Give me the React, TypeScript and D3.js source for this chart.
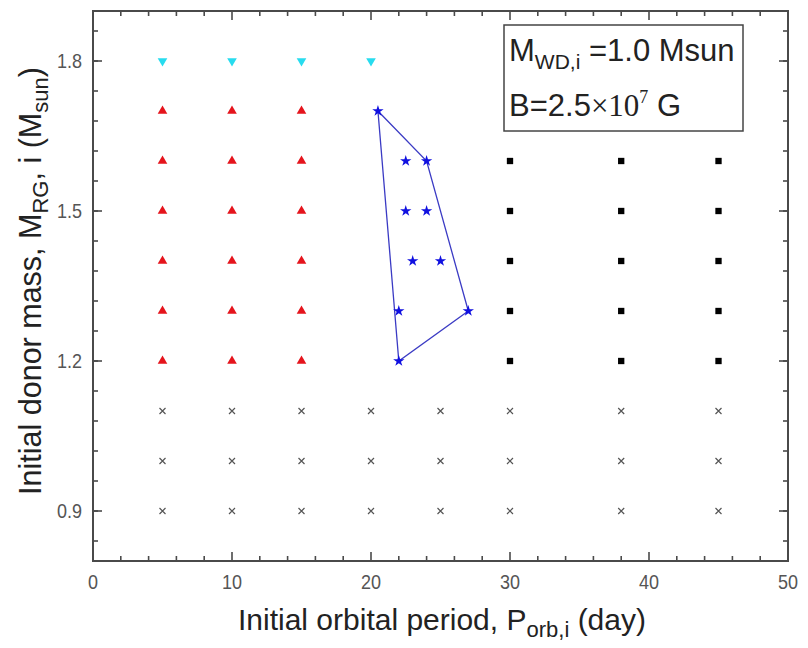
import React from "react";
import * as d3 from "d3";

const W = 808, H = 648;
const M = { left: 93, right: 788, top: 11, bottom: 561 };

const xDomain = [0, 50];
const yDomain = [0.8, 1.9];
const xMajor = [0, 10, 20, 30, 40, 50];
const yMajor = [0.9, 1.2, 1.5, 1.8];

// cyan down triangles
const cyanX = [5, 10, 15, 20];
const cyanY = [1.8];
// red triangles
const redX = [5, 10, 15];
const redY = [1.2, 1.3, 1.4, 1.5, 1.6, 1.7];
// black squares
const blackX = [30, 38, 45];
const blackY = [1.2, 1.3, 1.4, 1.5, 1.6];
// crosses
const crossX = [5, 10, 15, 20, 25, 30, 38, 45];
const crossY = [0.9, 1.0, 1.1];
// stars
const starX = [20.5, 22.5, 24, 22.5, 24, 23, 25, 22, 27, 22];
const starY = [1.7, 1.6, 1.6, 1.5, 1.5, 1.4, 1.4, 1.3, 1.3, 1.2];
// polygon around stars
const hullX = [20.5, 24, 27, 22];
const hullY = [1.7, 1.6, 1.3, 1.2];

const FONT = "Arial, 'Liberation Sans', Helvetica, sans-serif";

export default function App() {
  const x = d3.scaleLinear().domain(xDomain).range([M.left, M.right]);
  const y = d3.scaleLinear().domain(yDomain).range([M.bottom, M.top]);

  const xMinor = d3.range(0, 50.001, 2);
  const yMinor = d3.range(0.84, 1.9, 0.06);

  const tri = d3.symbol().type(d3.symbolTriangle).size(40)() as string;
  const star = d3.symbol().type(d3.symbolStar).size(40)() as string;
  const sq = d3.symbol().type(d3.symbolSquare).size(40)() as string;

  const hullLine = d3
    .line<number>()
    .x((i) => x(hullX[i]))
    .y((i) => y(hullY[i]))
    .curve(d3.curveLinearClosed);

  const axisColor = "#4a4a4a";
  const majLen = 9, minLen = 5;

  return (
    <svg
      width={W}
      height={H}
      style={{ position: "absolute", left: 0, top: 0, background: "#fff" }}
      fontFamily={FONT}
    >
      <rect x={0} y={0} width={W} height={H} fill="#fff" />
      {/* ticks */}
      <g stroke={axisColor} strokeWidth={1.6}>
        {xMinor.map((v, i) => {
          const isMaj = Math.abs(v % 10) < 1e-6;
          const L = isMaj ? majLen : minLen;
          return (
            <g key={"xt" + i}>
              <line x1={x(v)} x2={x(v)} y1={M.bottom} y2={M.bottom - L} />
              <line x1={x(v)} x2={x(v)} y1={M.top} y2={M.top + L} />
            </g>
          );
        })}
        {yMinor.map((v, i) => (
          <g key={"ym" + i}>
            <line x1={M.left} x2={M.left + minLen} y1={y(v)} y2={y(v)} />
            <line x1={M.right} x2={M.right - minLen} y1={y(v)} y2={y(v)} />
          </g>
        ))}
        {yMajor.map((v, i) => (
          <g key={"yM" + i}>
            <line x1={M.left} x2={M.left + majLen} y1={y(v)} y2={y(v)} />
            <line x1={M.right} x2={M.right - majLen} y1={y(v)} y2={y(v)} />
          </g>
        ))}
      </g>
      <rect
        x={M.left}
        y={M.top}
        width={M.right - M.left}
        height={M.bottom - M.top}
        fill="none"
        stroke={axisColor}
        strokeWidth={2}
      />
      {/* tick labels */}
      <g fill="#555" fontSize={20}>
        {xMajor.map((v) => (
          <text key={"xl" + v} x={x(v)} y={589} textAnchor="middle" transform={`translate(${x(v)},0) scale(0.9,1) translate(${-x(v)},0)`}>
            {v}
          </text>
        ))}
        {yMajor.map((v) => (
          <text key={"yl" + v} x={82} y={y(v) + 7} textAnchor="end" transform={`translate(82,0) scale(0.9,1) translate(-82,0)`}>
            {v.toFixed(1)}
          </text>
        ))}
      </g>
      {/* axis titles */}
      <text x={442} y={630} textAnchor="middle" fontSize={30} fill="#222">
        Initial orbital period, P
        <tspan fontSize={22} dy={7}>orb,i</tspan>
        <tspan dy={-7}> (day)</tspan>
      </text>
      <text
        transform="translate(41,281) rotate(-90)"
        textAnchor="middle"
        fontSize={30.5}
        fill="#222"
      >
        Initial donor mass, M
        <tspan fontSize={22} dy={7}>RG</tspan>
        <tspan dy={-7}>, i (M</tspan>
        <tspan fontSize={22} dy={7}>sun</tspan>
        <tspan dy={-7}>)</tspan>
      </text>

      {/* crosses */}
      <g stroke="#555" strokeWidth={1.2}>
        {crossY.flatMap((yy) =>
          crossX.map((xx) => (
            <path
              key={`c${xx}-${yy}`}
              d={`M${x(xx) - 3},${y(yy) - 3}L${x(xx) + 3},${y(yy) + 3}M${x(xx) - 3},${y(yy) + 3}L${x(xx) + 3},${y(yy) - 3}`}
            />
          ))
        )}
      </g>
      {/* red triangles */}
      <g fill="#e5141c">
        {redY.flatMap((yy) =>
          redX.map((xx) => (
            <path key={`r${xx}-${yy}`} d={tri} transform={`translate(${x(xx)},${y(yy)})`} />
          ))
        )}
      </g>
      {/* cyan down triangles */}
      <g fill="#27dcef">
        {cyanY.flatMap((yy) =>
          cyanX.map((xx) => (
            <path key={`cy${xx}`} d={tri} transform={`translate(${x(xx)},${y(yy)}) rotate(180)`} />
          ))
        )}
      </g>
      {/* black squares */}
      <g fill="#000">
        {blackY.flatMap((yy) =>
          blackX.map((xx) => (
            <path key={`b${xx}-${yy}`} d={sq} transform={`translate(${x(xx)},${y(yy)})`} />
          ))
        )}
      </g>
      {/* hull */}
      <path
        d={hullLine(d3.range(hullX.length)) as string}
        fill="none"
        stroke="#3b3bc4"
        strokeWidth={1.3}
      />
      {/* stars */}
      <g fill="#1010e0">
        {starX.map((xx, i) => (
          <path key={`s${i}`} d={star} transform={`translate(${x(xx)},${y(starY[i])})`} />
        ))}
      </g>

      {/* annotation box */}
      <rect x={504} y={25} width={239} height={106} fill="#fff" stroke="#444" strokeWidth={1.5} />
      <text x={509} y={61} fontSize={31} fill="#222">
        M
        <tspan fontSize={21} dy={8}>WD,i</tspan>
        <tspan dy={-8}> =1.0 Msun</tspan>
      </text>
      <text x={509} y={116} fontSize={31} fill="#222">
        B=2.5
        <tspan fontFamily="'Liberation Serif', 'Times New Roman', serif">×10</tspan>
        <tspan fontFamily="'Liberation Serif', 'Times New Roman', serif" fontSize={18} dy={-13}>7</tspan>
        <tspan dy={13}> G</tspan>
      </text>
    </svg>
  );
}
